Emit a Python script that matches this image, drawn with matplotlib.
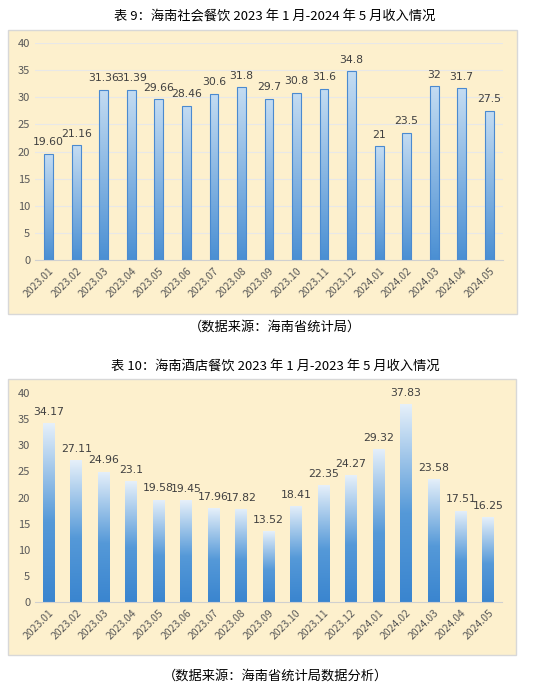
import numpy as np
import matplotlib.pyplot as plt
from matplotlib.colors import LinearSegmentedColormap
from matplotlib.patches import Rectangle

plt.rcParams['font.family'] = ['Noto Sans CJK SC', 'DejaVu Sans']

months = ["2023.01", "2023.02", "2023.03", "2023.04", "2023.05", "2023.06", "2023.07",
          "2023.08", "2023.09", "2023.10", "2023.11", "2023.12", "2024.01", "2024.02",
          "2024.03", "2024.04", "2024.05"]
social = [19.60, 21.16, 31.36, 31.39, 29.66, 28.46, 30.6, 31.8, 29.7, 30.8, 31.6, 34.8,
          21, 23.5, 32, 31.7, 27.5]
social_labels = ["19.60", "21.16", "31.36", "31.39", "29.66", "28.46", "30.6", "31.8", "29.7",
                 "30.8", "31.6", "34.8", "21", "23.5", "32", "31.7", "27.5"]
hotel = [34.17, 27.11, 24.96, 23.1, 19.58, 19.45, 17.96, 17.82, 13.52, 18.41, 22.35, 24.27,
         29.32, 37.83, 23.58, 17.51, 16.25]

title1 = "表 9：海南社会餐饮 2023 年 1 月-2024 年 5 月收入情况"
title2 = "表 10：海南酒店餐饮 2023 年 1 月-2023 年 5 月收入情况"
source1 = "（数据来源：海南省统计局）"
source2 = "（数据来源：海南省统计局数据分析）"

W, H = 550, 694
fig = plt.figure(figsize=(5.5, 6.94), dpi=100)
bg = "#fdf0cd"


def px_axes(x0, y0, x1, y1):
    return [x0 / W, 1 - y1 / H, (x1 - x0) / W, (y1 - y0) / H]


def panel(box, axbox, values, labels, width, cmap, edge, grid):
    fig.add_artist(Rectangle((box[0] / W, 1 - box[3] / H), (box[2] - box[0]) / W,
                             (box[3] - box[1]) / H, transform=fig.transFigure,
                             facecolor=bg, edgecolor="#d8d8d8", lw=1, zorder=0))
    ax = fig.add_axes(px_axes(*axbox))
    ax.set_facecolor("none")
    x = np.arange(len(values))
    bars = ax.bar(x, values, width=width, color="none", edgecolor=edge, lw=0.8, zorder=3)
    grad = np.linspace(1, 0, 256).reshape(-1, 1)
    for b in bars:
        im = ax.imshow(grad, cmap=cmap, aspect="auto", zorder=2,
                       extent=[b.get_x(), b.get_x() + b.get_width(), 0, b.get_height()])
        im.set_clip_path(b)
    for xi, v, t in zip(x, values, labels):
        ax.text(xi, v + 1.2, t, ha="center", va="bottom", fontsize=7.8, color="#404040",
                family=["DejaVu Sans"])
    ax.set_xlim(-0.5, len(values) - 0.5)
    ax.set_ylim(0, 40)
    ax.set_yticks(range(0, 41, 5))
    if grid:
        ax.grid(axis="y", color="#e8e8e8", lw=0.8, zorder=0)
    ax.set_xticks(x)
    ax.set_xticklabels(months, rotation=45, ha="right", rotation_mode="anchor",
                       fontsize=7.5, color="#595959")
    ax.tick_params(axis="y", length=0, labelsize=8, labelcolor="#595959")
    ax.tick_params(axis="x", length=0, pad=4)
    for s in ["top", "right", "left"]:
        ax.spines[s].set_visible(False)
    ax.spines["bottom"].set_color("#d0d0d0")
    return ax


cmap1 = LinearSegmentedColormap.from_list("c1", ["#4a8fd3", "#c4dcf2"])
cmap2 = LinearSegmentedColormap.from_list(
    "c2", [(0, "#3a85cf"), (0.45, "#5599d8"), (1, "#e6f0fa")])
panel((8, 30, 517, 314), (35, 43, 503, 260), social, social_labels, 0.32, cmap1, "#4a8ad0", True)
panel((8, 379, 516, 655), (35, 393, 502, 602), hotel, [f"{v:g}" for v in hotel], 0.42,
      cmap2, "none", False)

fig.text(0.5, 1 - 17 / H, title1, ha="center", va="center", fontsize=9.5)
fig.text(0.5, 1 - 327 / H, source1, ha="center", va="center", fontsize=9.5)
fig.text(0.5, 1 - 366 / H, title2, ha="center", va="center", fontsize=9.5)
fig.text(0.5, 1 - 676 / H, source2, ha="center", va="center", fontsize=9.5)

fig.savefig("out.png", dpi=100, facecolor="white")
